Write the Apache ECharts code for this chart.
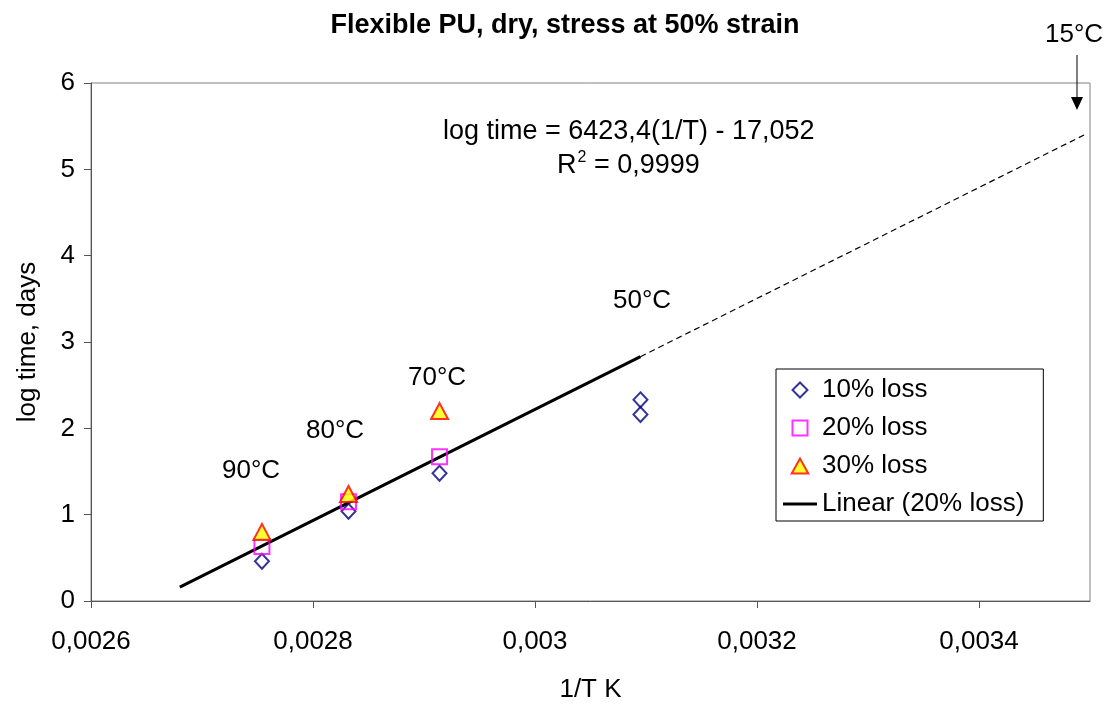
<!DOCTYPE html>
<html>
<head>
<meta charset="utf-8">
<script src="https://cdn.jsdelivr.net/npm/echarts@6/dist/echarts.min.js"></script>
<style>html,body{margin:0;padding:0;background:#fff}#c{width:1113px;height:704px}</style>
</head>
<body>
<div id="c"></div>
<script>
// ---- data ----
const xTicks = [0.0026, 0.0028, 0.003, 0.0032, 0.0034];
const loss10X = [0.002754, 0.002832, 0.002914, 0.003095, 0.003095];
const loss10Y = [0.46, 1.04, 1.48, 2.33, 2.16];
const loss20X = [0.002754, 0.002832, 0.002914];
const loss20Y = [0.63, 1.15, 1.67];
const loss30X = [0.002754, 0.002832, 0.002914];
const loss30Y = [0.80, 1.24, 2.20];
const trendX = [0.00268, 0.003095];
const trendY = [0.16, 2.83];
const extX = [0.003095, 0.003495];
const extY = [2.83, 5.40];
const seriesNames = ['10% loss', '20% loss', '30% loss', 'Linear (20% loss)'];

const zip = (xs, ys) => xs.map((x, i) => [x, ys[i]]);
const FONT = 'Liberation Sans, Arial, sans-serif';
const FS = 26;

const chart = echarts.init(document.getElementById('c'), null, {renderer: 'canvas'});
chart.setOption({
  animation: false,
  backgroundColor: '#fff',
  textStyle: {fontFamily: FONT},
  title: {
    text: 'Flexible PU, dry, stress at 50% strain',
    left: 560, top: 7, textAlign: 'center',
    textStyle: {fontFamily: FONT, fontSize: 27, fontWeight: 'bold', color: '#000'}
  },
  grid: {left: 91, right: 23, top: 83, bottom: 103, show: true, borderColor: '#808080', borderWidth: 1,
    containLabel: false, outerBoundsMode: 'none'},
  xAxis: {
    type: 'value', min: 0.0026, max: 0.0035, interval: 0.0002,
    name: '1/T K', nameLocation: 'middle', nameGap: 76,
    nameTextStyle: {fontFamily: FONT, fontSize: FS, color: '#000'},
    axisLine: {show: true, lineStyle: {color: '#555', width: 1}},
    axisTick: {show: true, length: 7, lineStyle: {color: '#555'}, customValues: xTicks},
    axisLabel: {fontFamily: FONT, fontSize: FS, color: '#000', margin: 28, customValues: xTicks,
      formatter: v => String(+v.toFixed(4)).replace('.', ',')},
    splitLine: {show: false}
  },
  yAxis: {
    type: 'value', min: 0, max: 6, interval: 1,
    name: 'log time, days', nameLocation: 'middle', nameGap: 50,
    nameTextStyle: {fontFamily: FONT, fontSize: FS, color: '#000'},
    axisLine: {show: true, lineStyle: {color: '#555', width: 1}},
    axisTick: {show: true, length: 7, lineStyle: {color: '#555'}},
    axisLabel: {fontFamily: FONT, fontSize: FS, color: '#000', margin: 16},
    splitLine: {show: false}
  },
  legend: {
    orient: 'vertical', left: 776, top: 369,
    data: [
      {name: seriesNames[0], icon: 'path://M1,0L2,1L1,2L0,1Z'},
      {name: seriesNames[1], icon: 'path://M0,0L1,0L1,1L0,1Z'},
      {name: seriesNames[2], icon: 'path://M1,0L2,1.8L0,1.8Z'},
      {name: seriesNames[3], icon: 'path://M0,0L34,0L34,3L0,3Z'}
    ],
    symbolKeepAspect: true,
    backgroundColor: '#fff', borderColor: '#000', borderWidth: 1,
    padding: [7, 19, 3, 7], itemGap: 10, itemWidth: 34, itemHeight: 15,
    textStyle: {fontFamily: FONT, fontSize: FS, color: '#000', lineHeight: 28}
  },
  series: [
    {
      name: 'Linear (20% loss)', type: 'line', data: zip(trendX, trendY), symbol: 'none',
      lineStyle: {color: '#000', width: 3}, itemStyle: {color: '#000'}, z: 2
    },
    {
      name: 'ext', type: 'line', data: zip(extX, extY), symbol: 'none',
      lineStyle: {color: '#000', width: 1.2, type: [6, 4]}, z: 2
    },
    {
      name: '10% loss', type: 'scatter', data: zip(loss10X, loss10Y),
      symbol: 'diamond', symbolSize: [14, 15],
      itemStyle: {color: 'rgba(255,255,255,0)', borderColor: '#000080', borderWidth: 2}, z: 3
    },
    {
      name: '20% loss', type: 'scatter', data: zip(loss20X, loss20Y),
      symbol: 'rect', symbolSize: [15, 15],
      itemStyle: {color: 'rgba(255,255,255,0)', borderColor: '#FF00FF', borderWidth: 2}, z: 3
    },
    {
      name: '30% loss', type: 'scatter', data: zip(loss30X, loss30Y),
      symbol: 'triangle', symbolSize: [17, 16],
      itemStyle: {color: '#FFFF00', borderColor: '#FF0000', borderWidth: 2}, z: 4
    }
  ],
  graphic: [
    {type: 'text', left: 222, top: 458, style: {text: '90°C', fontFamily: FONT, fontSize: FS, fill: '#000'}},
    {type: 'text', left: 306, top: 418, style: {text: '80°C', fontFamily: FONT, fontSize: FS, fill: '#000'}},
    {type: 'text', left: 408, top: 365, style: {text: '70°C', fontFamily: FONT, fontSize: FS, fill: '#000'}},
    {type: 'text', left: 613, top: 288, style: {text: '50°C', fontFamily: FONT, fontSize: FS, fill: '#000'}},
    {type: 'text', left: 1045, top: 22, style: {text: '15°C', fontFamily: FONT, fontSize: FS, fill: '#000'}},
    {type: 'text', left: 443, top: 118, style: {text: 'log time = 6423,4(1/T) - 17,052', fontFamily: FONT, fontSize: 27, fill: '#000'}},
    {type: 'text', left: 557, top: 150, style: {
      rich: {
        a: {fontFamily: FONT, fontSize: 27, color: '#000'},
        s: {fontFamily: FONT, fontSize: 16, color: '#000', padding: [0, 0, 16, 1]}
      },
      text: '{a|R}{s|2}{a| = 0,9999}'
    }},
    {type: 'line', shape: {x1: 1077, y1: 55, x2: 1077, y2: 100}, style: {stroke: '#000', lineWidth: 1}},
    {type: 'polygon', shape: {points: [[1071, 97], [1083, 97], [1077, 110]]}, style: {fill: '#000'}}
  ]
});
</script>
</body>
</html>
